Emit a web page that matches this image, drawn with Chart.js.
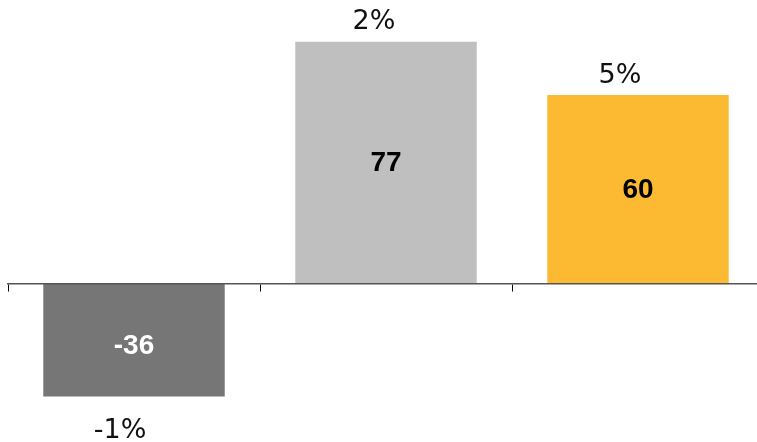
<!DOCTYPE html>
<html>
<head>
<meta charset="utf-8">
<script src="https://cdn.jsdelivr.net/npm/chart.js@4"></script>
<style>
  html, body { margin: 0; padding: 0; background: #fff; overflow: hidden; }
  .wrap { position: relative; width: 766px; height: 442px; }
</style>
</head>
<body>
<div class="wrap"><canvas id="barChart"></canvas></div>
<script>
// data
const categories = ['Cat 1', 'Cat 2', 'Cat 3'];
const values = [-36, 77, 60];
const shareLabels = ['-1%', '2%', '5%'];

// draws value inside the bar and the % above / below it
const barLabels = {
    id: 'barLabels',
    afterDatasetsDraw(chart) {
        const ctx = chart.ctx;
        const meta = chart.getDatasetMeta(0);
        const nudge = [-14, -12, -18]; // % labels sit a bit left of bar centre
        ctx.save();
        meta.data.forEach((bar, i) => {
            const v = values[i];
            const mid = (bar.y + bar.base) / 2;
            ctx.textAlign = 'center';
            ctx.textBaseline = 'middle';
            ctx.font = 'bold 28px "Liberation Sans", Arial, sans-serif';
            ctx.fillStyle = i === 0 ? '#ffffff' : '#000000';
            ctx.fillText(String(v), bar.x, v < 0 ? mid + 6 : mid + 1);

            ctx.font = '27px "DejaVu Sans", Verdana, sans-serif';
            ctx.fillStyle = '#111111';
            ctx.textBaseline = 'alphabetic';
            if (v >= 0) {
                ctx.fillText(shareLabels[i], bar.x + nudge[i], bar.y - 12.5);
            } else {
                ctx.fillText(shareLabels[i], bar.x + nudge[i], bar.y + 41);
            }
        });
        ctx.restore();
    }
};

const config = {
    type: 'bar',
    data: {
        labels: categories,
        datasets: [{
            data: values,
            backgroundColor: ['#767677', '#bfbfbf', '#fcba32'],
            borderWidth: 0,
            barPercentage: 0.72,
            categoryPercentage: 1
        }]
    },
    options: {
        responsive: true,
        maintainAspectRatio: false,
        animation: false,
        layout: { padding: { left: 8, right: 2, top: 0, bottom: 0 } },
        plugins: {
            legend: { display: false },
            tooltip: { enabled: false }
        },
        scales: {
            x: {
                position: { y: 0 },
                grid: {
                    drawOnChartArea: false,
                    drawTicks: true,
                    tickLength: 7,
                    color: '#000000',
                    lineWidth: 1
                },
                border: { display: true, color: '#555555', width: 1.5, z: 1 },
                ticks: { display: false }
            },
            y: {
                display: false,
                min: -50.47,
                max: 90.28
            }
        }
    },
    plugins: [barLabels]
};

const myChart = new Chart(document.getElementById('barChart'), config);
</script>
</body>
</html>
